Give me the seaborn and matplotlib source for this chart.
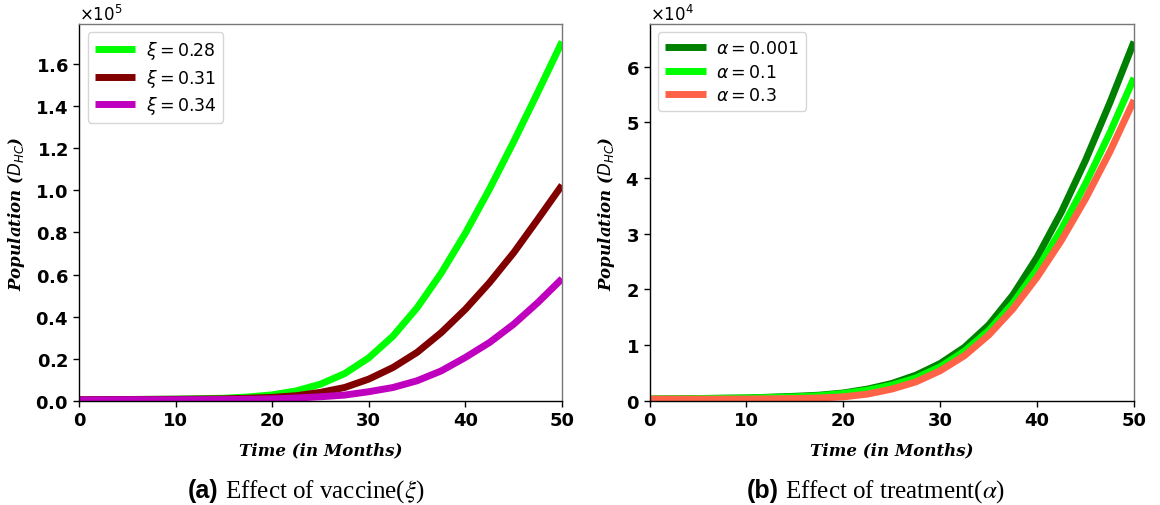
import numpy as np
import pandas as pd
import matplotlib
matplotlib.use("Agg")
import matplotlib.pyplot as plt
import seaborn as sns

t = [0, 5, 10, 15, 17.5, 20, 22.5, 25, 27.5, 30, 32.5, 35, 37.5, 40, 42.5, 45, 47.5, 50]

# (a) effect of vaccine, D_HC in units of 1e5
xi_labels = [r"$\xi = 0.28$", r"$\xi = 0.31$", r"$\xi = 0.34$"]
xi_028 = [0.005, 0.006, 0.008, 0.012, 0.018, 0.028, 0.047, 0.079, 0.129, 0.204, 0.307, 0.442, 0.607, 0.797, 1.007, 1.232, 1.467, 1.707]
xi_031 = [0.005, 0.006, 0.007, 0.009, 0.012, 0.016, 0.024, 0.040, 0.063, 0.103, 0.158, 0.23, 0.324, 0.435, 0.562, 0.704, 0.863, 1.025]
xi_034 = [0.004, 0.005, 0.005, 0.006, 0.007, 0.009, 0.013, 0.019, 0.027, 0.043, 0.063, 0.095, 0.142, 0.206, 0.277, 0.364, 0.467, 0.58]
xi_colors = ["#00ff00", "#800000", "#bf00bf"]

# (b) effect of treatment, D_HC in units of 1e4
al_labels = [r"$\alpha = 0.001$", r"$\alpha = 0.1$", r"$\alpha = 0.3$"]
al_0001 = [0.03, 0.04, 0.05, 0.08, 0.10, 0.14, 0.21, 0.31, 0.46, 0.67, 0.96, 1.36, 1.90, 2.58, 3.39, 4.32, 5.35, 6.45]
al_01 = [0.03, 0.04, 0.05, 0.07, 0.09, 0.13, 0.19, 0.28, 0.41, 0.61, 0.89, 1.26, 1.75, 2.36, 3.08, 3.90, 4.81, 5.80]
al_03 = [0.03, 0.03, 0.03, 0.04, 0.05, 0.07, 0.12, 0.21, 0.34, 0.54, 0.81, 1.18, 1.65, 2.22, 2.88, 3.63, 4.47, 5.40]
al_colors = ["#008000", "#00ff00", "#ff6347"]

df_a = pd.DataFrame({"t": t * 3,
                     "y": np.array(xi_028 + xi_031 + xi_034) * 1e5,
                     "case": sum([[l] * len(t) for l in xi_labels], [])})
df_b = pd.DataFrame({"t": t * 3,
                     "y": np.array(al_0001 + al_01 + al_03) * 1e4,
                     "case": sum([[l] * len(t) for l in al_labels], [])})

sns.set_style("ticks")
plt.rcParams["font.family"] = ["DejaVu Sans"]
for k in ["text.color", "axes.labelcolor", "xtick.color", "ytick.color"]:
    plt.rcParams[k] = "black"

fig = plt.figure(figsize=(11.6, 5.06), dpi=100)
ax1 = fig.add_axes([0.068, 0.206, 0.4165, 0.745])
ax2 = fig.add_axes([0.560, 0.206, 0.4176, 0.745])

for ax, df, labels, colors in [(ax1, df_a, xi_labels, xi_colors),
                               (ax2, df_b, al_labels, al_colors)]:
    sns.lineplot(data=df, x="t", y="y", hue="case", hue_order=labels,
                 palette=colors, linewidth=5, ax=ax,
                 solid_capstyle="butt", solid_joinstyle="round")
    ax.set_xlim(0, 50)
    ax.set_ylim(bottom=0)
    ax.ticklabel_format(axis="y", style="sci", scilimits=(0, 0), useMathText=True)
    ax.yaxis.get_offset_text().set_fontsize(12)
    ax.tick_params(labelsize=13, length=4, width=1)
    for lab in ax.get_xticklabels() + ax.get_yticklabels():
        lab.set_fontweight("bold")
    ax.set_xlabel("Time (in Months)", fontsize=12, fontweight="bold",
                  fontstyle="italic", family="DejaVu Serif", labelpad=9)
    ax.set_ylabel(r"Population ($D_{HC}$)", fontsize=12, fontweight="bold",
                  fontstyle="italic", family="DejaVu Serif", labelpad=6)
    for s in ax.spines.values():
        s.set_linewidth(1.0)
        s.set_color("black")
    ax.spines["right"].set_color("#777777")
    ax.spines["top"].set_color("#777777")
    ax.legend(loc="upper left", fontsize=12.5, handlelength=2.35,
              handletextpad=0.6, labelspacing=0.3,
              frameon=True, fancybox=True, framealpha=0.8, edgecolor="#cccccc")

# subfigure captions
fig.text(0.188, 0.016, "(a)", fontsize=18, fontweight="bold",
         family="Liberation Sans", ha="right", va="baseline")
fig.text(0.194, 0.016, r"Effect of vaccine($\xi$)", fontsize=18,
         family="Liberation Serif", math_fontfamily="stix", ha="left", va="baseline")
fig.text(0.6716, 0.016, "(b)", fontsize=18, fontweight="bold",
         family="Liberation Sans", ha="right", va="baseline")
fig.text(0.6767, 0.016, r"Effect of treatment($\alpha$)", fontsize=18,
         family="Liberation Serif", math_fontfamily="stix", ha="left", va="baseline")

fig.savefig("out.png", dpi=100)
